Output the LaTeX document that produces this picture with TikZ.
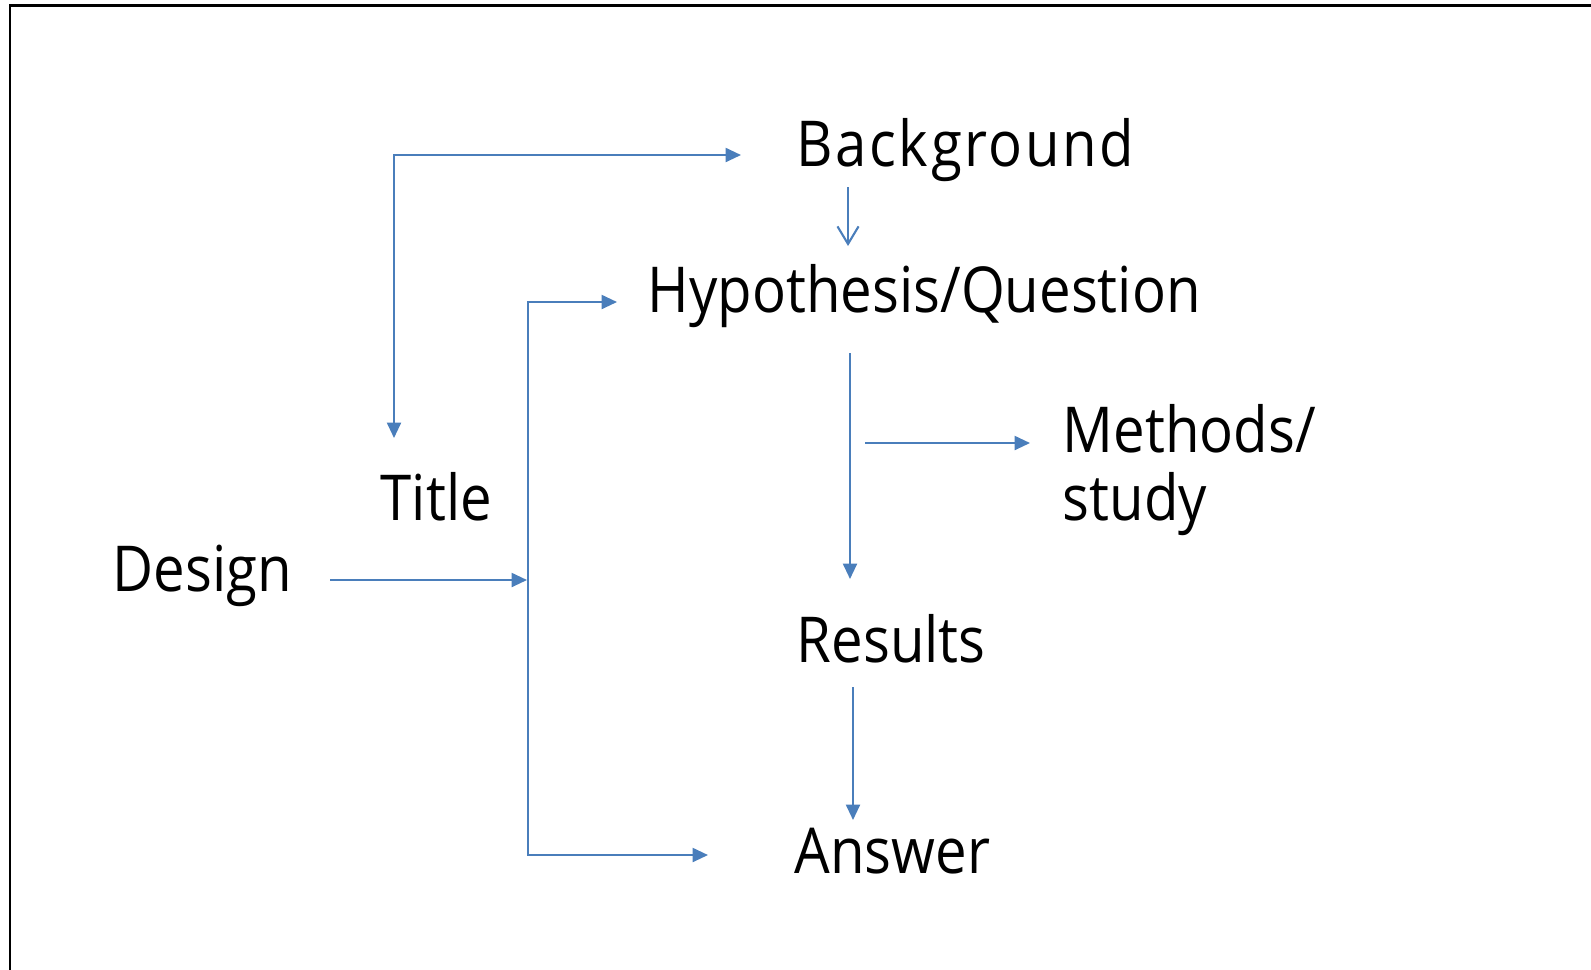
\documentclass[tikz,border=0pt]{standalone}
\usepackage{fontspec}
\setmainfont[FakeStretch=0.89]{Open Sans}
\usetikzlibrary{arrows.meta}
\definecolor{flowblue}{RGB}{74,126,187}
\tikzset{
    >={Triangle[length=4.4pt,width=4pt]},
    word/.style={anchor=base west, inner sep=0pt, align=left, font=\fontsize{18}{19.3}\selectfont},
    link/.style={draw=flowblue, line width=0.6pt},
    openlink/.style={draw=flowblue, line width=0.6pt, -{Straight Barb[length=5pt,width=6pt]}},
}
\begin{document}
\begin{tikzpicture}[x=0.01cm, y=-0.01cm]
    \useasboundingbox (0, 0) rectangle (1591, 969);
    \clip (0, 0) rectangle (1591, 969);
    \fill[white] (0, 0) rectangle (1591, 969);
    \draw[line width=0.85pt] (10, 1000) -- (10, 5) -- (1600, 5);
    % labels
    \node[word] (bg) at (796, 166) {\addfontfeature{LetterSpace=4}Background};
    \node[word] (hyp) at (647, 312) {Hypothesis/Question};
    \node[word] (title) at (380, 520) {Title};
    \node[word] (design) at (112, 591) {Design};
    \node[word] (methods) at (1062, 520) {Methods/\\study};
    \node[word] (results) at (796, 662) {Results};
    \node[word] (answer) at (794, 873) {Answer};
    % arrow ends
    \coordinate (titlein) at (394, 438);
    \coordinate (bgin) at (741, 155);
    \coordinate (hypin) at (617, 302);
    \coordinate (bartop) at (528, 302);
    \coordinate (barbot) at (528, 855);
    \coordinate (answerin) at (708, 855);
    \coordinate (designout) at (330, 580);
    \coordinate (barmid) at (527, 580);
    \coordinate (bgout) at (848, 187);
    \coordinate (hyptop) at (848, 246);
    \coordinate (hypout) at (850, 353);
    \coordinate (resultsin) at (850, 579);
    \coordinate (branch) at (865, 443);
    \coordinate (methodsin) at (1030, 443);
    \coordinate (resultsout) at (853, 687);
    \coordinate (answertop) at (853, 820);
    % connectors
    \draw[link, <->] (titlein) |- (bgin);
    \draw[openlink] (bgout) -- (hyptop);
    \draw[link, <->] (hypin) -- (bartop) -- (barbot) -- (answerin);
    \draw[link, ->] (designout) -- (barmid);
    \draw[link, ->] (hypout) -- (resultsin);
    \draw[link, ->] (branch) -- (methodsin);
    \draw[link, ->] (resultsout) -- (answertop);
\end{tikzpicture}
\end{document}
